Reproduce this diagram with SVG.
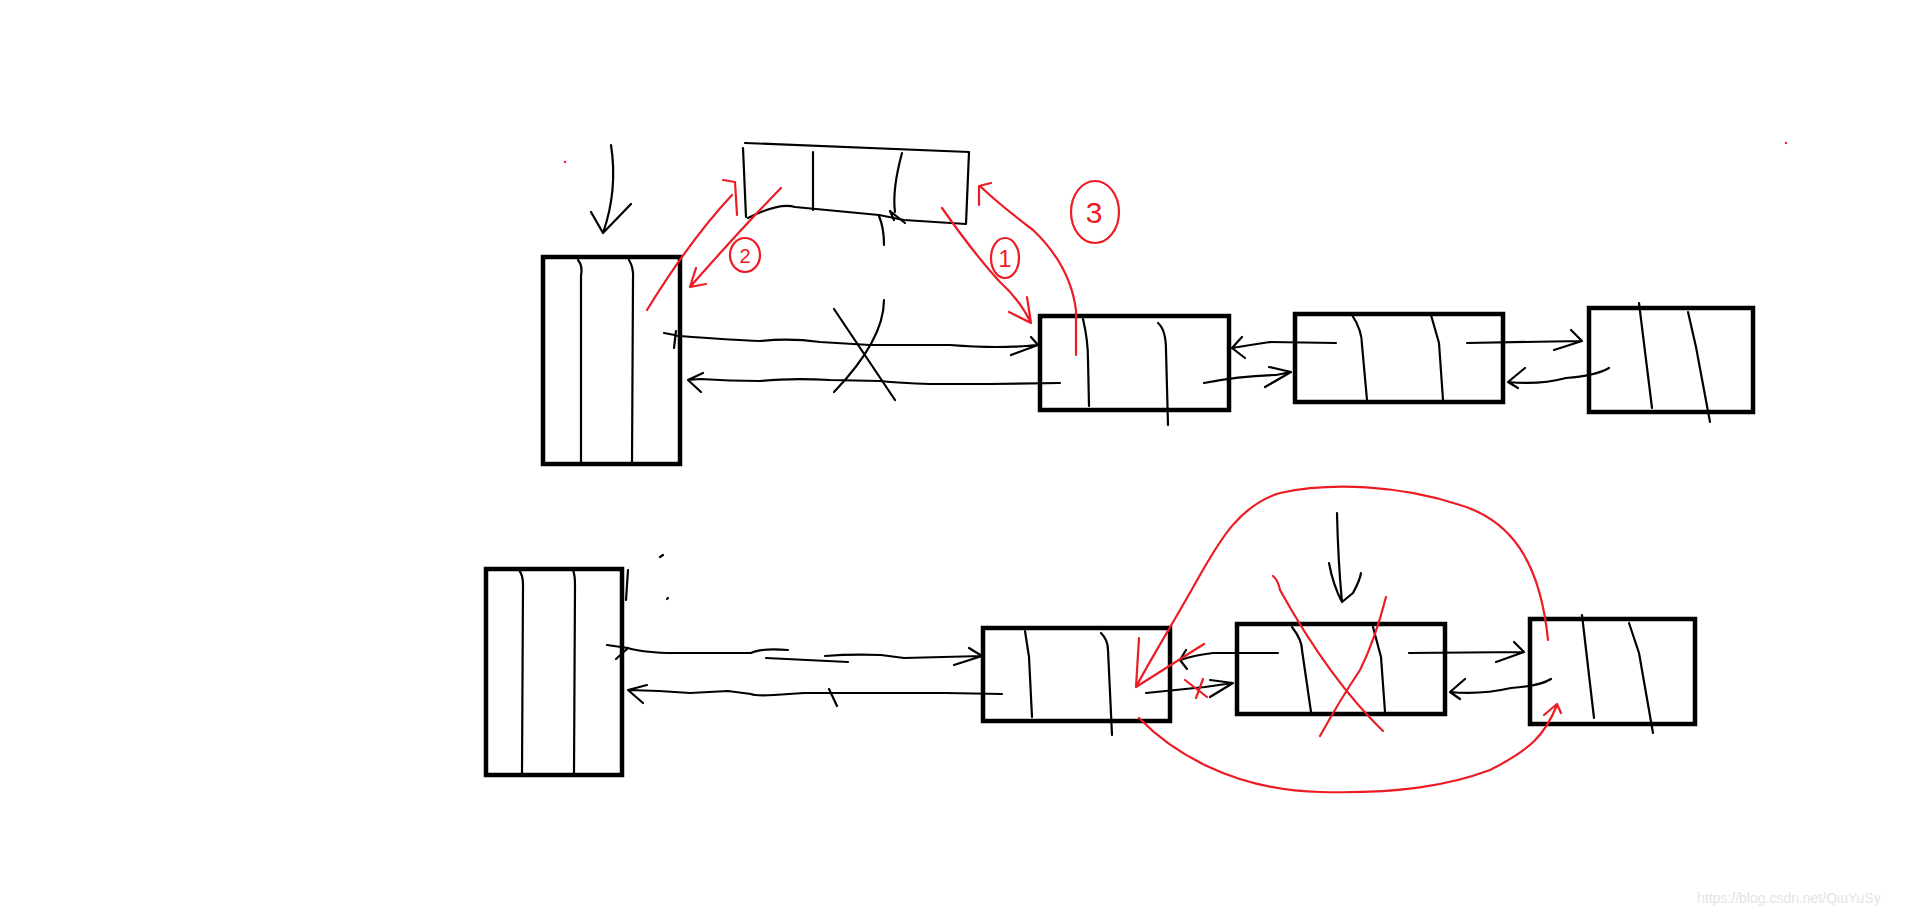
<svg xmlns="http://www.w3.org/2000/svg" width="1914" height="916" viewBox="0 0 1914 916">
<style>
.box{fill:none;stroke:#000;stroke-width:4.5}
.ln{fill:none;stroke:#000;stroke-width:2.2;stroke-linecap:round;stroke-linejoin:round}
.rd{fill:none;stroke:#ed1c24;stroke-width:2.2;stroke-linecap:round;stroke-linejoin:round}
.rt{fill:#ed1c24;font-family:"Liberation Sans",Arial,sans-serif;text-anchor:middle}
.wm{fill:#e4e4e4;font-family:"Liberation Sans",Arial,sans-serif;font-size:14px}
</style>
<rect width="1914" height="916" fill="#fff"/>

<g id="head1">
<rect class="box" x="543" y="257" width="137" height="207"/>
<path class="ln" d="M578,260 Q583,266 581,276 L581,463 M629,260 Q634,268 633,280 L632,463"/>
<path class="ln" d="M611,145 Q618,190 603,233 M591,212 L603,233 L631,204"/>
</g>

<g id="newNode">
<path class="ln" d="M745,143 L969,152 L966,224 M743,148 L746,217 M966,224 L904,220 L879,215 L795,207 Q780,202 748,218"/>
<path class="ln" d="M890,211 L905,223 M890,211 L894,220"/>
<path class="ln" d="M813,152 L813,210 M902,153 Q892,190 895,212"/>
<path class="ln" d="M879,216 Q884,228 884,245"/>
</g>

<g id="node1">
<rect class="box" x="1040" y="316" width="189" height="94"/>
<path class="ln" d="M1083,319 Q1088,340 1088,360 L1089,406 M1158,323 Q1166,330 1166,350 L1168,425"/>
</g>
<g id="node2">
<rect class="box" x="1295" y="314" width="208" height="88"/>
<path class="ln" d="M1352,315 Q1362,330 1362,345 L1367,400 M1431,315 L1439,343 L1443,400"/>
</g>
<g id="node3">
<rect class="box" x="1589" y="308" width="164" height="104"/>
<path class="ln" d="M1639,303 L1652,408 M1688,312 L1696,347 L1710,422"/>
</g>

<g id="head2">
<rect class="box" x="486" y="569" width="136" height="206"/>
<path class="ln" d="M519,570 Q523,575 523,585 L522,773 M573,570 Q575,575 575,585 L574,773"/>
<path class="ln" d="M628,570 L626,600"/>
<path class="ln" d="M660,557 L663,555 M667,599 L668,598"/>
</g>
<g id="nodeA">
<rect class="box" x="983" y="628" width="187" height="93"/>
<path class="ln" d="M1025,631 L1029,657 L1032,717 M1101,633 Q1108,640 1108,650 L1112,735"/>
</g>
<g id="nodeB">
<rect class="box" x="1237" y="624" width="208" height="90"/>
<path class="ln" d="M1292,627 Q1302,640 1302,650 L1311,712 M1373,627 L1381,657 L1385,712"/>
<path class="ln" d="M1337,513 Q1338,560 1342,602 M1329,563 Q1333,585 1342,602 L1353,593 Q1360,580 1361,573"/>
</g>
<g id="nodeC">
<rect class="box" x="1530" y="619" width="165" height="105"/>
<path class="ln" d="M1582,615 L1594,718 M1629,623 L1639,653 L1653,733"/>
</g>

<g id="connectors">
<!-- top row -->
<path class="ln" d="M664,333 L680,336 Q730,340 760,341 Q790,338 820,342 L870,345 L950,345 Q1000,349 1036,345 M1031,337 L1038,345 L1011,355 M676,331 L674,348"/>
<path class="ln" d="M1060,383 L990,384 L930,384 Q900,383 880,381 L830,380 Q790,378 760,381 Q730,381 700,379 L688,380 M703,373 L688,380 L701,392"/>
<path class="ln" d="M834,309 L895,400 M884,300 Q884,340 834,392"/>
<path class="ln" d="M1204,383 Q1240,376 1276,375 L1291,372 M1269,367 L1291,372 L1265,387"/>
<path class="ln" d="M1336,343 L1270,342 Q1250,345 1232,348 M1242,337 L1232,348 L1245,358"/>
<path class="ln" d="M1467,343 L1582,341 M1571,330 L1582,341 L1554,350"/>
<path class="ln" d="M1609,368 Q1595,376 1566,378 Q1540,385 1508,382 M1525,368 L1508,382 L1518,388"/>
<!-- bottom row -->
<path class="ln" d="M607,645 L628,648 Q640,652 667,653 L751,653 Q760,648 788,650 M766,658 L848,662 M825,656 Q850,654 881,655 L904,658 L982,656 M969,648 L982,656 L954,665 M616,659 L628,648"/>
<path class="ln" d="M1002,694 L946,693 L831,693 L804,693 Q790,694 774,695 Q755,696 751,694 L728,691 L690,693 L659,691 L628,690 M647,685 L628,690 L643,703 M829,689 L837,706"/>
<path class="ln" d="M1146,693 Q1175,690 1205,687 L1233,683 M1210,680 L1233,683 L1210,697"/>
<path class="ln" d="M1278,653 L1213,653 Q1195,655 1180,660 M1186,650 L1180,660 L1187,669"/>
<path class="ln" d="M1409,653 L1524,652 M1514,642 L1524,652 L1496,662"/>
<path class="ln" d="M1551,679 Q1540,686 1511,688 Q1480,695 1450,692 M1465,679 L1450,692 L1460,699"/>
</g>

<g id="annotations">
<path class="rd" d="M647,310 Q690,240 732,195 M723,180 L735,182 L737,215"/>
<path class="rd" d="M781,188 Q740,230 690,287 M696,268 L690,287 L706,284"/>
<ellipse class="rd" cx="745" cy="255" rx="15" ry="17"/>
<text class="rt" x="745" y="263" font-size="20">2</text>
<path class="rd" d="M942,208 Q975,255 1000,282 Q1020,300 1031,323 M1027,297 L1031,323 L1009,312"/>
<ellipse class="rd" cx="1005" cy="258" rx="14" ry="20"/>
<text class="rt" x="1005" y="267" font-size="24">1</text>
<path class="rd" d="M1076,355 L1076,310 Q1070,265 1033,230 Q1000,205 981,187 M979,205 L979,186 L991,183"/>
<ellipse class="rd" cx="1095" cy="212" rx="24" ry="31"/>
<text class="rt" x="1094" y="223" font-size="30">3</text>
<circle cx="565" cy="162" r="1.2" fill="#ed1c24"/>
<circle cx="1786" cy="143" r="1.2" fill="#ed1c24"/>
<path class="rd" d="M1273,576 Q1278,580 1280,590 Q1330,680 1383,731 M1386,597 Q1375,640 1360,670 Q1340,700 1320,736"/>
<path class="rd" d="M1185,680 L1207,697 M1203,679 L1196,698"/>
<path class="rd" d="M1548,640 C1540,560 1510,520 1460,505 C1400,485 1330,482 1280,493 C1240,505 1220,540 1200,575 C1175,620 1150,660 1136,687 M1139,638 L1136,687 L1204,644"/>
<path class="rd" d="M1139,718 C1170,750 1230,790 1320,792 C1400,794 1450,785 1490,770 C1530,750 1545,735 1557,705 M1544,715 L1557,704 L1561,713"/>
</g>

<text class="wm" x="1697" y="903">https://blog.csdn.net/QiuYuSy</text>
</svg>
